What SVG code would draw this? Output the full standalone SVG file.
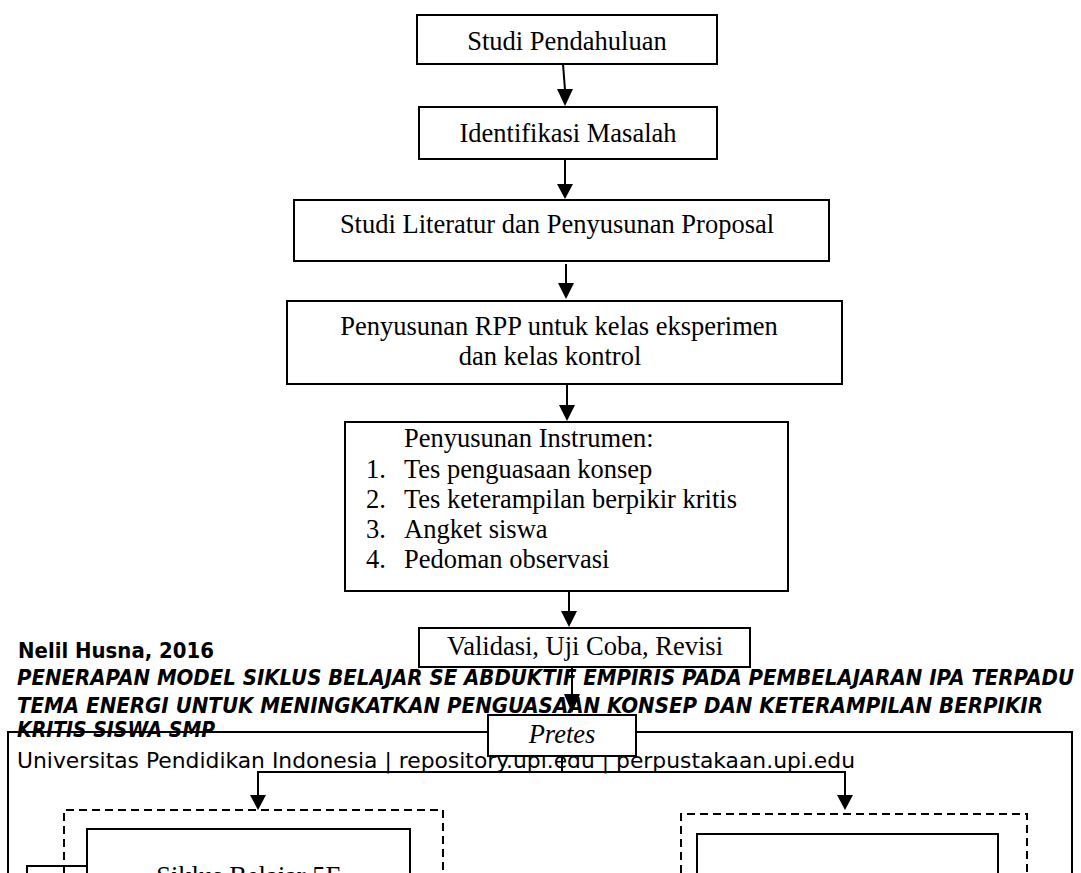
<svg xmlns="http://www.w3.org/2000/svg" width="1081" height="873" viewBox="0 0 1081 873">
<defs>
<style>
.box{fill:#fff;stroke:#000;stroke-width:2}
.ln{fill:none;stroke:#000;stroke-width:2}
.dash{fill:none;stroke:#000;stroke-width:2;stroke-dasharray:8 5}
.t{font-family:"Liberation Serif","Times New Roman",serif;font-size:26.5px;fill:#000}
.c{text-anchor:middle}
.f{font-family:"DejaVu Sans","Verdana",sans-serif;font-size:20.5px;fill:#000}
.fb{font-weight:bold}
.fi{font-weight:bold;font-style:italic}
.head{fill:#000;stroke:none}
</style>
</defs>
<rect width="1081" height="873" fill="#fff"/>

<g id="footer-text">
<text class="f fb" x="18" y="658" textLength="196" lengthAdjust="spacingAndGlyphs">Nelil Husna, 2016</text>
<text class="f fi" x="17" y="685" textLength="1057" lengthAdjust="spacingAndGlyphs">PENERAPAN MODEL SIKLUS BELAJAR SE ABDUKTIF EMPIRIS PADA PEMBELAJARAN IPA TERPADU</text>
<text class="f fi" x="17" y="713" textLength="1026" lengthAdjust="spacingAndGlyphs">TEMA ENERGI UNTUK MENINGKATKAN PENGUASAAN KONSEP DAN KETERAMPILAN BERPIKIR</text>
<text class="f fi" x="17" y="737" textLength="198" lengthAdjust="spacingAndGlyphs">KRITIS SISWA SMP</text>
<text class="f" x="17" y="768" textLength="838" lengthAdjust="spacingAndGlyphs">Universitas Pendidikan Indonesia | repository.upi.edu | perpustakaan.upi.edu</text>
</g>

<g id="frame">
<path class="ln" d="M8,873 V732 H488 M636,732 H1072 V873"/>
</g>

<g id="connectors">
<line class="ln" x1="563" y1="64" x2="565" y2="90"/>
<polygon class="head" points="557,89 573,89 565,106"/>
<line class="ln" x1="565" y1="160" x2="565" y2="185"/>
<polygon class="head" points="557,184 573,184 565,199"/>
<line class="ln" x1="566" y1="264" x2="566" y2="284"/>
<polygon class="head" points="558,283 574,283 566,299"/>
<line class="ln" x1="567" y1="385" x2="567" y2="406"/>
<polygon class="head" points="559,405 575,405 567,421"/>
<line class="ln" x1="569" y1="592" x2="569" y2="612"/>
<polygon class="head" points="561,611 577,611 569,627"/>
<line class="ln" x1="572" y1="667" x2="572" y2="695"/>
<polygon class="head" points="564,694 580,694 572,713"/>
<line class="ln" x1="562" y1="756" x2="562" y2="772"/>
<polyline class="ln" points="258,796 258,772 845,772 845,796"/>
<polygon class="head" points="250,795 266,795 258,810"/>
<polygon class="head" points="837,795 853,795 845,810"/>
<path class="ln" d="M27,873 V866 H87"/>
</g>

<g id="n-studi-pendahuluan">
<rect class="box" x="417" y="15" width="300" height="49"/>
<text class="t c" x="567" y="50">Studi Pendahuluan</text>
</g>
<g id="n-identifikasi">
<rect class="box" x="419" y="107" width="298" height="52"/>
<text class="t c" x="568" y="142">Identifikasi Masalah</text>
</g>
<g id="n-studi-literatur">
<rect class="box" x="294" y="200" width="535" height="61"/>
<text class="t c" x="557" y="233">Studi Literatur dan Penyusunan Proposal</text>
</g>
<g id="n-rpp">
<rect class="box" x="287" y="301" width="555" height="83"/>
<text class="t c" x="559" y="335">Penyusunan RPP untuk kelas eksperimen</text>
<text class="t c" x="550" y="365">dan kelas kontrol</text>
</g>
<g id="n-instrumen">
<rect class="box" x="345" y="422" width="443" height="169"/>
<text class="t" x="404" y="447">Penyusunan Instrumen:</text>
<text class="t" x="366" y="478">1.</text><text class="t" x="404" y="478">Tes penguasaan konsep</text>
<text class="t" x="366" y="508">2.</text><text class="t" x="404" y="508">Tes keterampilan berpikir kritis</text>
<text class="t" x="366" y="538">3.</text><text class="t" x="404" y="538">Angket siswa</text>
<text class="t" x="366" y="568">4.</text><text class="t" x="404" y="568">Pedoman observasi</text>
</g>
<g id="n-validasi">
<rect class="box" x="419" y="628" width="331" height="39"/>
<text class="t c" x="585" y="655">Validasi, Uji Coba, Revisi</text>
</g>
<g id="n-pretes">
<rect class="box" x="488" y="715" width="148" height="41"/>
<text class="t c" x="562" y="743" font-style="italic">Pretes</text>
</g>

<g id="n-kelas-eksperimen">
<path class="dash" d="M64,873 V810 H443 V873"/>
<path class="ln" d="M87,873 V829 H410 V873"/>
<text class="t c" x="249" y="885">Siklus Belajar 5E</text>
</g>
<g id="n-kelas-kontrol">
<path class="dash" d="M681,873 V814 H1027 V873"/>
<path class="ln" d="M697,873 V834 H998 V873" stroke-width="1.5"/>
</g>
</svg>
